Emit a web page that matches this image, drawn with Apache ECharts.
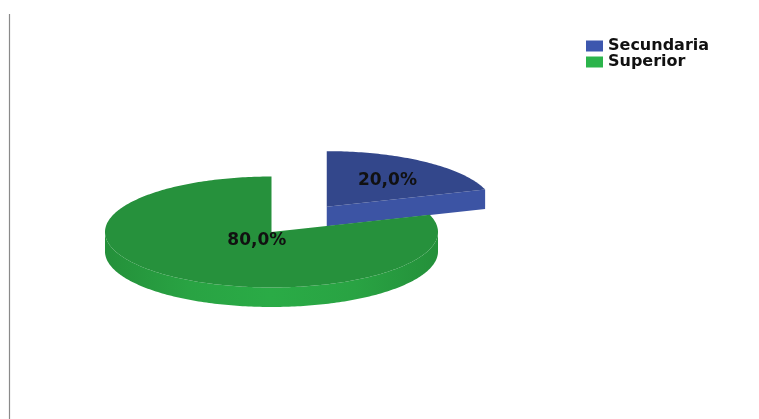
<!DOCTYPE html>
<html>
<head>
<meta charset="utf-8">
<script src="https://cdn.jsdelivr.net/npm/echarts@6/dist/echarts.min.js"></script>
<style>
  html, body { margin: 0; padding: 0; background: #ffffff; }
  #chart { width: 759px; height: 419px; }
</style>
</head>
<body>
<div id="chart"></div>
<script>
// Nivel de estudios: participación por categoría
const categories = ['Secundaria', 'Superior'];
const shares = [20, 80];
const shareLabels = ['20,0%', '80,0%'];

// Palette: legend swatch, top face, side faces
const legendColors = ['#3d57ae', '#2bb44b'];
const topColors = ['#33478b', '#26913c'];
const sideColors = ['#3c54a4', '#2aab46'];

// Tilted pie geometry (pixels)
const CX = 271.5, CY = 232, RX = 166.5, RY = 55.5, DEPTH = 19.5;
const explode = [94, 0];
const labelRadius = [0.62, 0.15];
const LABEL_DROP = 2;

const total = shares.reduce((a, b) => a + b, 0);
const rad = d => d * Math.PI / 180;

function pt(cx, cy, deg, dy) {
  return [cx + RX * Math.sin(rad(deg)), cy - RY * Math.cos(rad(deg)) + (dy || 0)];
}
function arc(cx, cy, a0, a1, dy) {
  const pts = [];
  const n = Math.max(2, Math.ceil(Math.abs(a1 - a0)));
  for (let k = 0; k <= n; k++) pts.push(pt(cx, cy, a0 + (a1 - a0) * k / n, dy));
  return pts;
}

function makeRender(i) {
  return function (params, api) {
    const before = shares.slice(0, i).reduce((a, b) => a + b, 0);
    const start = before / total * 360;
    const end = start + api.value(0) / total * 360;
    const mid = (start + end) / 2;
    const ax = CX + explode[i] * Math.sin(rad(mid));
    const ay = CY - explode[i] * Math.cos(rad(mid)) * RY / RX;
    const children = [];

    // radial walls facing the viewer
    if (Math.sin(rad(end)) > 1e-6) {
      const e = pt(ax, ay, end);
      children.push({ type: 'polygon', shape: { points: [[ax, ay], e, [e[0], e[1] + DEPTH], [ax, ay + DEPTH]] },
        style: { fill: sideColors[i] } });
    }
    if (Math.sin(rad(start)) < -1e-6) {
      const s = pt(ax, ay, start);
      children.push({ type: 'polygon', shape: { points: [[ax, ay], s, [s[0], s[1] + DEPTH], [ax, ay + DEPTH]] },
        style: { fill: sideColors[i] } });
    }
    // outer rim on the front half
    const r0 = Math.max(start, 90), r1 = Math.min(end, 270);
    if (r1 > r0) {
      const topArc = arc(ax, ay, r0, r1, 0);
      const botArc = arc(ax, ay, r0, r1, DEPTH).reverse();
      children.push({ type: 'polygon', shape: { points: topArc.concat(botArc) },
        style: { fill: new echarts.graphic.LinearGradient(0, 0, 1, 0, [
          { offset: 0, color: '#24903a' },
          { offset: 0.25, color: '#29a343' },
          { offset: 0.5, color: sideColors[i] },
          { offset: 0.75, color: '#29a343' },
          { offset: 1, color: '#24903a' }
        ]) } });
    }
    // top face
    children.push({ type: 'polygon', shape: { points: [[ax, ay]].concat(arc(ax, ay, start, end, 0)) },
      style: { fill: topColors[i] } });
    // value label
    children.push({ type: 'text', style: {
      x: ax + labelRadius[i] * RX * Math.sin(rad(mid)),
      y: ay - labelRadius[i] * RY * Math.cos(rad(mid)) + LABEL_DROP,
      text: shareLabels[i], fill: '#111', align: 'center', verticalAlign: 'middle',
      font: 'bold 17px "DejaVu Sans"' } });
    return { type: 'group', children: children };
  };
}

const chart = echarts.init(document.getElementById('chart'), null, { renderer: 'canvas' });
chart.setOption({
  animation: false,
  backgroundColor: '#ffffff',
  legend: {
    data: categories,
    orient: 'vertical',
    left: 586, top: 38, padding: 0,
    itemWidth: 17, itemHeight: 11, itemGap: 0,
    icon: 'rect',
    textStyle: { fontFamily: 'DejaVu Sans', fontWeight: 'bold', fontSize: 16, lineHeight: 16, color: '#111' }
  },
  graphic: [{
    type: 'line', shape: { x1: 9.5, y1: 14, x2: 9.5, y2: 419 },
    style: { stroke: '#8a8a8a', lineWidth: 1.2 }, silent: true
  }],
  series: categories.map((name, i) => ({
    type: 'custom',
    name: name,
    coordinateSystem: 'none',
    itemStyle: { color: legendColors[i] },
    renderItem: makeRender(i),
    data: [[shares[i]]]
  }))
});
</script>
</body>
</html>
